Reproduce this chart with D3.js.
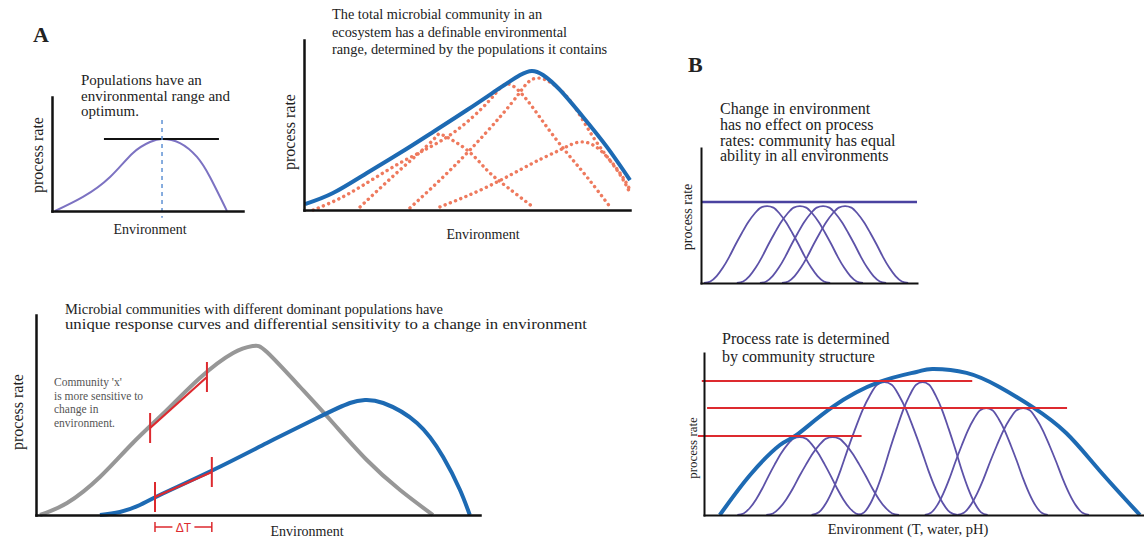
<!DOCTYPE html>
<html>
<head>
<meta charset="utf-8">
<script src="https://cdn.jsdelivr.net/npm/d3@7"></script>
<style>
  body { margin: 0; background: #fff; }
  text { font-family: "Liberation Serif", "Times New Roman", serif; fill: #222; }
</style>
</head>
<body>
<script>
const width = 1144, height = 541;

// all curves: [environment, process rate], both on a 0-100 scale per panel

// A (top left): one population
const popCurve = [[1.6, 0], [16.2, 12.3], [30.4, 29.8], [42.4, 50.9], [51.3, 60.5], [57.6, 63.2],
                  [67, 59.6], [75.9, 47.4], [82.7, 29.8], [91.6, 0]];
const popOptimumX = 57.6;
const popOptimumRate = 63.2;
const popRateLineX = [27.2, 87.4];
const popDashRate = [79.8, -6];

// A (top right): total community and its populations
const totalCurve = [[0.3, 3.5], [8.9, 10], [19.3, 21.8], [29.4, 33.5], [39.6, 45.9], [50, 58.8],
                    [60.1, 71.8], [66.3, 79.4], [69.9, 81.8], [73.3, 79.4], [78.5, 70.6],
                    [85.6, 54.7], [92.9, 37.1], [100, 17.6]];
const populations = [
  [[2.8, 0], [14.1, 10], [29.4, 27.6], [44.8, 44.1], [57, 64.7], [62.6, 74.1], [68.4, 64.7],
   [74.5, 48.8], [80.7, 33.5], [86.8, 19.4], [93.9, 1.8]],
  [[17.2, 1.8], [29.4, 23.5], [39.6, 41.2], [42.6, 44.1], [50, 35.3], [56.1, 23.5], [62.3, 13.5], [70.2, 1.8]],
  [[32.5, 1.2], [41.7, 17.6], [50.9, 35.3], [60.1, 54.7], [66.3, 69.4], [71.8, 77.6], [80.7, 66.5],
   [88.7, 42.9], [96, 23.5], [100, 10]],
  [[41.7, 1.8], [56.1, 13.5], [70.2, 27.6], [78.5, 35.3], [84.7, 40], [90.8, 35.3], [96.9, 21.8], [100, 11.8]]
];

// A (bottom): two communities and their sensitivity to a change
const communityX = [[0.9, 0], [7, 6], [14.4, 19], [21.8, 36], [29.5, 52.5], [36.9, 68.5], [44.4, 81],
                    [48.9, 84.5], [52, 81.5], [59.5, 64], [66.9, 46], [74.5, 27.5], [82, 12.5], [89.4, 0]];
const communityY = [[14.4, 0], [18.9, 1.5], [23.4, 5], [27.9, 10], [39.9, 22.5], [52, 36], [63.3, 48.5],
                    [70.7, 56], [74.1, 57.5], [78.2, 56], [85.8, 46], [91.7, 29], [95.5, 12.5], [97.7, 0]];
const changeX = [[25.7, 43.5], [38.5, 69]];
const changeY = [[26.8, 9], [39.6, 21.5]];
const deltaRate = -6;

// B (top): functionally redundant community
const flatRate = 60;
const flatCenters = [30.6, 45.8, 56.5, 66.7];
const flatHalfWidth = 29.2;
const flatHeight = 57;

// B (bottom): rate set by community structure
const structureCurve = [[3.6, 0], [10.5, 24.7], [17.3, 43.2], [21.1, 49.4], [29.3, 66.7], [40, 82.1],
                        [48.4, 88.3], [52, 90.1], [59.8, 87.7], [67.3, 79], [74.8, 66.7],
                        [82.5, 50.6], [90, 27.8], [99.3, 0]];
const structureCenters = [21.8, 29.3, 41.1, 49.8, 64.3, 72.7];
const structureHalfWidths = [14.2, 15.1, 16.6, 14.8, 14, 15];
const structureHeights = [48.1, 48.1, 82, 82, 66, 66];
const structureLevels = [82.7, 66, 48.8];
const structureLevelX = [[-0.5, 61.1], [0.7, 82.7], [-1.4, 35.9]];

// shape of one population bump (offset / half width, fraction of peak)
const bumpShape = [[-1, 0], [-0.9, 0.02], [-0.8, 0.09], [-0.7, 0.2], [-0.6, 0.34], [-0.5, 0.5],
                   [-0.4, 0.65], [-0.3, 0.79], [-0.2, 0.9], [-0.1, 0.98], [0, 1],
                   [0.1, 0.98], [0.2, 0.9], [0.3, 0.79], [0.4, 0.65], [0.5, 0.5],
                   [0.6, 0.34], [0.7, 0.2], [0.8, 0.09], [0.9, 0.02], [1, 0]];

const svg = d3.select("body").append("svg")
    .attr("width", width)
    .attr("height", height);

svg.append("rect").attr("width", width).attr("height", height).attr("fill", "white");

function panel(xr, yr) {
  const x = d3.scaleLinear().domain([0, 100]).range(xr);
  const y = d3.scaleLinear().domain([0, 100]).range(yr);
  const line = d3.line().x(d => x(d[0])).y(d => y(d[1])).curve(d3.curveNatural);
  const bumpLine = d3.line().x(d => x(d[0])).y(d => y(d[1])).curve(d3.curveMonotoneX);
  return {x, y, line, bumpLine};
}

function axes(p, w) {
  svg.append("g")
      .attr("transform", `translate(0,${p.y(0)})`)
      .call(d3.axisBottom(p.x).tickValues([]).tickSizeOuter(0))
      .select(".domain").attr("stroke", "#111").attr("stroke-width", w).attr("stroke-linecap", "square");
  svg.append("g")
      .attr("transform", `translate(${p.x(0)},0)`)
      .call(d3.axisLeft(p.y).tickValues([]).tickSizeOuter(0))
      .select(".domain").attr("stroke", "#111").attr("stroke-width", w).attr("stroke-linecap", "square");
}

function label(x, y, lines, size, lh, opts = {}) {
  const t = svg.append("text")
      .attr("x", x).attr("y", y)
      .attr("font-size", size)
      .attr("text-anchor", opts.anchor || "start");
  if (opts.fill) t.style("fill", opts.fill);
  if (opts.weight) t.attr("font-weight", opts.weight);
  if (opts.rotate) t.attr("transform", `rotate(-90,${x},${y})`);
  lines.forEach((s, i) => {
    const ts = t.append("tspan").attr("x", x).attr("dy", i ? lh : 0).text(s);
    if (opts.lengths && opts.lengths[i]) ts.attr("textLength", opts.lengths[i]).attr("lengthAdjust", "spacingAndGlyphs");
  });
  return t;
}

function bump(c, hw, h) {
  return bumpShape.map(d => [c + d[0] * hw, d[1] * h]);
}

const purple = "#5d52a8";
const blue = "#1d6ab3";
const red = "#dd2a2f";

// ---------- A top left ----------
const a1 = panel([52, 243], [211, 97]);
svg.append("path").attr("d", a1.line(popCurve))
    .attr("fill", "none").attr("stroke", "#7c72c2").attr("stroke-width", 2);
svg.append("line")
    .attr("x1", a1.x(popRateLineX[0])).attr("x2", a1.x(popRateLineX[1]))
    .attr("y1", a1.y(popOptimumRate)).attr("y2", a1.y(popOptimumRate))
    .attr("stroke", "#111").attr("stroke-width", 2);
svg.append("line")
    .attr("x1", a1.x(popOptimumX)).attr("x2", a1.x(popOptimumX))
    .attr("y1", a1.y(popDashRate[0])).attr("y2", a1.y(popDashRate[1]))
    .attr("stroke", "#5f92d4").attr("stroke-width", 1.5).attr("stroke-dasharray", "4,4");
axes(a1, 2.5);
label(81, 85, ["Populations have an", "environmental range and", "optimum."], 15, 15.5);
label(150, 234, ["Environment"], 14, 0, {anchor: "middle"});
label(43, 155, ["process rate"], 16, 0, {anchor: "middle", rotate: true});
label(33, 42, ["A"], 22, 0, {weight: "bold"});

// ---------- A top right ----------
const a2 = panel([304, 630], [210, 40]);
populations.forEach(p => {
  svg.append("path").attr("d", a2.line(p))
      .attr("fill", "none").attr("stroke", "#ee7a5e").attr("stroke-width", 3.4)
      .attr("stroke-linecap", "round").attr("stroke-dasharray", "0.1,5.5");
});
svg.append("path").attr("d", a2.line(totalCurve))
    .attr("fill", "none").attr("stroke", blue).attr("stroke-width", 4);
axes(a2, 2.5);
label(332, 19, ["The total microbial community in an", "ecosystem has a definable environmental",
                "range, determined by the populations it contains"], 14.3, 17.5);
label(483, 239, ["Environment"], 14, 0, {anchor: "middle"});
label(295, 132, ["process rate"], 16, 0, {anchor: "middle", rotate: true});

// ---------- A bottom ----------
const a3 = panel([36, 480], [515, 315]);
svg.append("path").attr("d", a3.line(communityX))
    .attr("fill", "none").attr("stroke", "#979797").attr("stroke-width", 4);
svg.append("path").attr("d", a3.line(communityY))
    .attr("fill", "none").attr("stroke", blue).attr("stroke-width", 4);
[changeX, changeY].forEach(seg => {
  svg.append("line")
      .attr("x1", a3.x(seg[0][0])).attr("y1", a3.y(seg[0][1]))
      .attr("x2", a3.x(seg[1][0])).attr("y2", a3.y(seg[1][1]))
      .attr("stroke", red).attr("stroke-width", 2.2);
  seg.forEach(d => {
    svg.append("line")
        .attr("x1", a3.x(d[0])).attr("x2", a3.x(d[0]))
        .attr("y1", a3.y(d[1]) - 15).attr("y2", a3.y(d[1]) + 15)
        .attr("stroke", red).attr("stroke-width", 2);
  });
});
// delta T bracket
const dx0 = a3.x(changeY[0][0]), dx1 = a3.x(changeY[1][0]), dy = a3.y(deltaRate);
const dmid = (dx0 + dx1) / 2;
svg.append("path")
    .attr("d", `M${dx0},${dy - 5}V${dy + 5}M${dx0},${dy}H${dmid - 11}M${dmid + 11},${dy}H${dx1}M${dx1},${dy - 5}V${dy + 5}`)
    .attr("fill", "none").attr("stroke", red).attr("stroke-width", 1.5);
svg.append("text").attr("x", dmid).attr("y", dy + 4.5)
    .attr("text-anchor", "middle").attr("font-size", 12)
    .style("font-family", "'Liberation Sans', Arial, sans-serif").style("fill", red)
    .text("ΔT");
axes(a3, 2.5);
label(65, 314, ["Microbial communities with different dominant populations have",
                "unique response curves and differential sensitivity to a change in environment"], 14.3, 15,
      {lengths: [378, 522]});
label(54, 386, ["Community 'x'", "is more sensitive to", "change in", "environment."], 11.5, 13.7, {fill: "#555"});
label(307, 536, ["Environment"], 14, 0, {anchor: "middle"});
label(23, 412, ["process rate"], 16, 0, {anchor: "middle", rotate: true});

// ---------- B top ----------
const b1 = panel([701, 917], [283, 148]);
flatCenters.forEach(c => {
  svg.append("path").attr("d", b1.bumpLine(bump(c, flatHalfWidth, flatHeight)))
      .attr("fill", "none").attr("stroke", purple).attr("stroke-width", 1.8);
});
svg.append("line")
    .attr("x1", b1.x(0)).attr("x2", b1.x(100))
    .attr("y1", b1.y(flatRate)).attr("y2", b1.y(flatRate))
    .attr("stroke", "#4a42a0").attr("stroke-width", 2.5);
axes(b1, 2);
label(720, 114, ["Change in environment", "has no effect on process",
                 "rates: community has equal", "ability in all environments"], 16, 15.8);
label(692, 217, ["process rate"], 14, 0, {anchor: "middle", rotate: true});
label(688, 72, ["B"], 22, 0, {weight: "bold"});

// ---------- B bottom ----------
const b2 = panel([704, 1143], [515, 353]);
structureCenters.forEach((c, i) => {
  svg.append("path").attr("d", b2.bumpLine(bump(c, structureHalfWidths[i], structureHeights[i])))
      .attr("fill", "none").attr("stroke", purple).attr("stroke-width", 1.8);
});
svg.append("path").attr("d", b2.line(structureCurve))
    .attr("fill", "none").attr("stroke", blue).attr("stroke-width", 4);
structureLevels.forEach((r, i) => {
  svg.append("line")
      .attr("x1", b2.x(structureLevelX[i][0])).attr("x2", b2.x(structureLevelX[i][1]))
      .attr("y1", b2.y(r)).attr("y2", b2.y(r))
      .attr("stroke", red).attr("stroke-width", 2);
});
axes(b2, 2);
label(722, 344, ["Process rate is determined", "by community structure"], 16, 18);
label(908, 534, ["Environment (T, water, pH)"], 14.5, 0, {anchor: "middle"});
label(697, 448, ["process rate"], 13, 0, {anchor: "middle", rotate: true});
</script>
</body>
</html>
